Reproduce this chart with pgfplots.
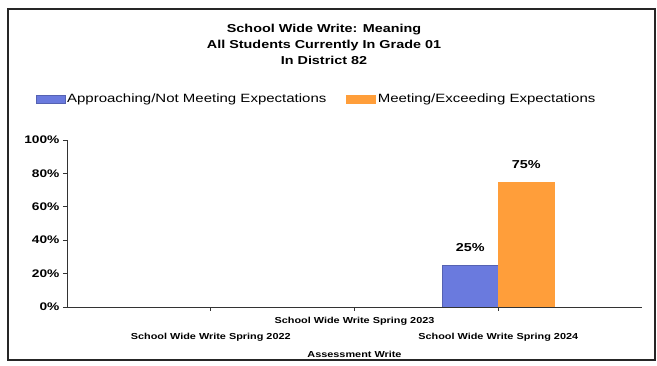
\documentclass[border=0pt]{standalone}
\usepackage{fontspec}
\setmainfont[FakeStretch=1.25]{Liberation Sans}
\usepackage{pgfplots}
\pgfplotsset{compat=1.18}
\definecolor{cblue}{RGB}{106,122,222}
\definecolor{corange}{RGB}{255,158,58}
\begin{document}
\begin{tikzpicture}[x=1pt,y=1pt]
\path[use as bounding box] (0,0) rectangle (657,366);
\draw[line width=1.4pt, black!85] (8,6) rectangle (655,357);
\node[align=center, font=\fontsize{11.5}{16}\selectfont\bfseries] at (324,322)
  {School Wide Write: Meaning\\All Students Currently In Grade 01\\In District 82};
\begin{axis}[
  at={(67pt,59pt)}, anchor=south west,
  scale only axis, width=575pt, height=167pt,
  ymin=0, ymax=100, xmin=-1, xmax=3,
  axis lines=left,
  axis line style={-, black!80, line width=0.9pt},
  ytick={0,20,40,60,80,100},
  yticklabel={\pgfmathprintnumber{\tick}\%},
  /pgf/number format/assume math mode=true,
  yticklabel style={font=\fontsize{11}{12}\selectfont\bfseries},
  tick align=outside, major tick length=4pt,
  tick style={black!80, line width=0.8pt},
  xtick={1}, xticklabels={School Wide Write Spring 2023},
  xticklabel style={font=\fontsize{8.7}{10}\selectfont\bfseries, yshift=-3pt},
  extra x ticks={0,2},
  extra x tick labels={School Wide Write Spring 2022, School Wide Write Spring 2024},
  extra x tick style={tick label style={yshift=-16pt}},
  xlabel={Assessment Write},
  xlabel style={font=\fontsize{8.7}{10}\selectfont\bfseries,
    at={(rel axis cs:0.5,0)}, anchor=center, yshift=-47pt},
  ybar=0pt, bar width=56pt,
  nodes near coords={\pgfmathprintnumber{\pgfplotspointmeta}\%},
  every node near coord/.append style={font=\fontsize{11.5}{13}\selectfont\bfseries, yshift=10pt},
  legend columns=2,
  legend style={at={(-0.06,1.245)}, anchor=west, draw=none, fill=none,
    font=\fontsize{12}{14}\selectfont,
    /tikz/every even column/.append style={column sep=18pt}},
  legend image code/.code={\fill[#1] (0pt,-4pt) rectangle (29pt,4pt);},
]
\addplot[fill=cblue, draw=cblue!80!black] coordinates {(2,25)};
\addplot[fill=corange, draw=corange] coordinates {(2,75)};
\legend{Approaching/Not Meeting Expectations, Meeting/Exceeding Expectations}
\end{axis}
\end{tikzpicture}
\end{document}
